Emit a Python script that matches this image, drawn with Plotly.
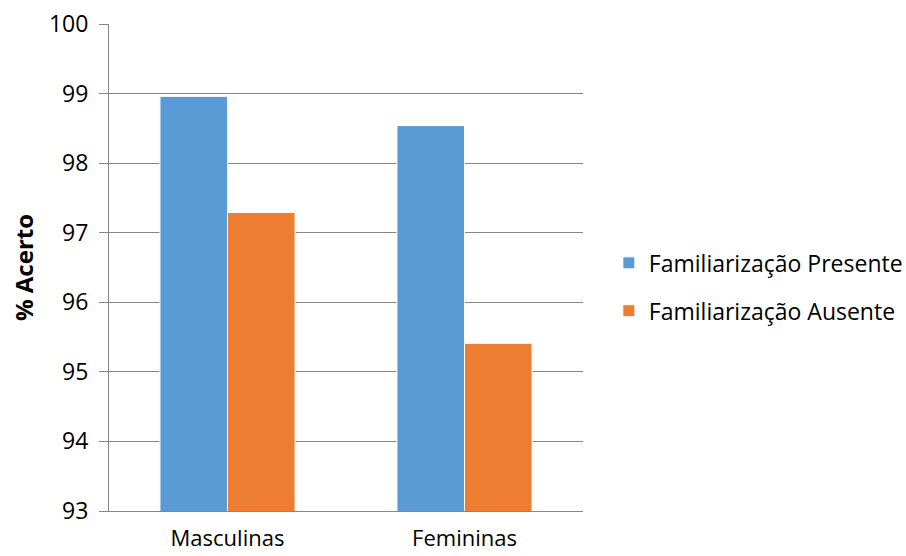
import plotly.graph_objects as go

categories = ["Masculinas", "Femininas"]
presente = [98.96, 98.54]
ausente = [97.29, 95.41]
series_names = ["Familiarização Presente", "Familiarização Ausente"]
colors = ["#5B9BD5", "#ED7D31"]
y_ticks = [93, 94, 95, 96, 97, 98, 99, 100]

FONT = "Open Sans, Liberation Sans, sans-serif"
FS = 23

fig = go.Figure()
for i, (name, vals) in enumerate(zip(series_names, [presente, ausente])):
    fig.add_trace(go.Bar(
        x=categories, y=vals, name=name,
        marker=dict(color=colors[i], line=dict(color="white", width=1)),
        legendgroup=f"g{i}",
    ))

fig.update_layout(
    width=906, height=556,
    margin=dict(l=109, r=323, t=24, b=45, autoexpand=False),
    paper_bgcolor="white", plot_bgcolor="white",
    barmode="group", bargap=0.43, bargroupgap=0,
    font=dict(family=FONT, size=FS, color="#000000"),
    showlegend=True,
    legend=dict(xref="container", yref="container",
                x=0.672, y=0.484, xanchor="left", yanchor="middle",
                traceorder="grouped", tracegroupgap=15,
                font=dict(size=FS, family=FONT), itemwidth=30),
    xaxis=dict(showline=True, linecolor="#868686", linewidth=1,
               ticks="", ticklabelstandoff=8, automargin=False,
               tickfont=dict(size=22)),
    yaxis=dict(range=[93, 100], tickvals=y_ticks, automargin=False,
               showgrid=True, gridcolor="#868686", gridwidth=1,
               showline=True, linecolor="#868686", linewidth=1,
               ticks="outside", ticklen=9, tickcolor="#868686",
               ticklabelstandoff=6,
               tickfont=dict(size=FS), zeroline=False,
               title=dict(text="<b>% Acerto</b>", font=dict(size=24), standoff=8)),
)

fig.write_html("out.html")
